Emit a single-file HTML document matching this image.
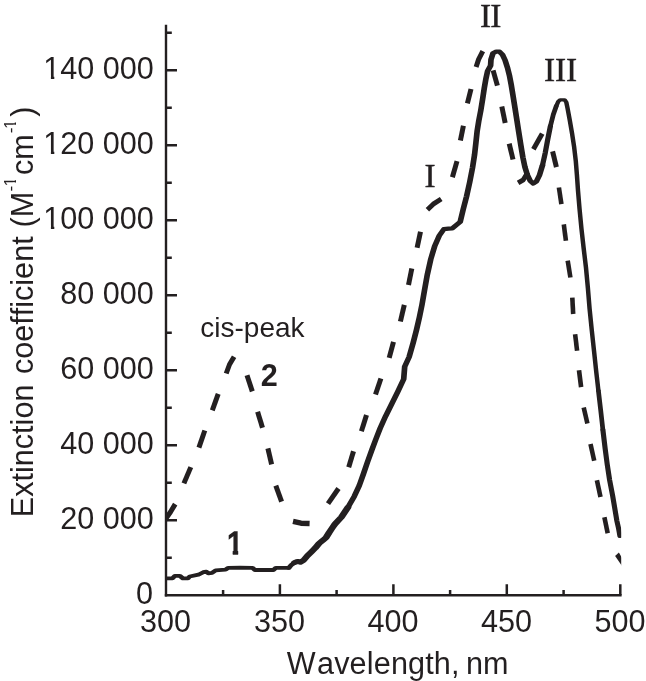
<!DOCTYPE html>
<html lang="en"><head><meta charset="utf-8"><title>Extinction coefficient vs wavelength</title>
<style>
html,body{margin:0;padding:0;background:#fff}
body{width:646px;height:681px;overflow:hidden}
svg{display:block}
text{font-family:"Liberation Sans",Arial,sans-serif;fill:#231f20;font-kerning:none}
.t{font-size:30.6px}
.b{font-size:30.6px;font-weight:bold}
.r{font-family:"Liberation Serif","Times New Roman",serif;font-size:33.3px;stroke:#231f20;stroke-width:.45px}
.s{font-size:17.3px}
.c{font-size:28px}
</style></head><body>
<svg width="646" height="681" viewBox="0 0 646 681">
<rect width="646" height="681" fill="#fff"/>
<defs><clipPath id="cp"><rect x="166" y="20" width="455.2" height="576"/></clipPath></defs>

<g stroke="#231f20" fill="none" stroke-linecap="butt">
<path stroke-width="2.4" d="M166.0 24.8 V596.6"/>
<path stroke-width="2.6" d="M164.8 595.3 H621.6"/>
<path stroke-width="2.5" d="M166.0 557.8 h5.8 M166.0 520.3 h11.0 M166.0 482.8 h5.8 M166.0 445.3 h11.0 M166.0 407.8 h5.8 M166.0 370.3 h11.0 M166.0 332.8 h5.8 M166.0 295.2 h11.0 M166.0 257.7 h5.8 M166.0 220.2 h11.0 M166.0 182.7 h5.8 M166.0 145.2 h11.0 M166.0 107.7 h5.8 M166.0 70.2 h11.0 M166.0 32.7 h5.8 M223.1 595.3 v-5.4 M279.9 595.3 v-11.0 M336.6 595.3 v-5.4 M393.4 595.3 v-11.0 M450.1 595.3 v-5.4 M506.8 595.3 v-11.0 M563.6 595.3 v-5.4 M620.3 595.3 v-11.0"/>
</g>
<g clip-path="url(#cp)"><g transform="scale(1.36 1)" fill="none" stroke="#231f20" stroke-linejoin="round" stroke-linecap="round">
<path stroke-width="3.8" d="M120.59 578.4 L126.76 578.4 L128.60 575.9 L132.21 575.9 L134.49 578.4 L138.16 578.4 L139.49 576.5 L145.88 574.7 L149.49 572.2 L151.76 571.6 L153.16 573.4 L155.88 572.8 L158.60 570.3 L165.88 569.7 L167.72 567.9 L176.47 567.7 L185.59 567.8 L187.43 570.0 L201.03 570.0 L202.87 567.8 L212.43 567.8"/>
<path stroke-width="3.9" d="M212.43 567.8 L214.34 564.8 L216.54 562.6"/>
<path stroke-width="5.0" d="M216.54 562.6 L218.68 561.4 L220.81 562.2 L223.24 560.3 L226.03 555.8 L228.90 552.0 L231.76 548.1 L234.63 543.4 L237.43 540.3 L239.71 537.6 L241.99 532.6 L244.26 528.0 L246.32 524.0 L251.03 517.2 L255.81 507.3"/>
<path stroke-width="4.2" d="M255.81 507.3 L260.51 496.3 L264.19 485.5 L267.11 474.4 L270.22 462.0 L273.44 449.9 L276.36 439.3 L279.49 428.4 L283.53 416.2 L288.09 403.8 L292.56 391.5 L296.84 379.1 L297.57 366.7 L300.88 356.8 L303.86 342.5 L306.32 329.5 L308.42 317.2 L310.28 304.8 L312.08 290.8 L314.21 274.6 L316.76 259.1 L319.71 245.8 L323.01 235.6 L326.40 229.1 L329.78 228.6 L332.57 228.4 L334.78 225.8 L338.38 221.8 L340.59 209.3 L343.07 196.3 L345.40 182.0 L347.44 167.8 L348.93 154.8 L349.96 142.4 L350.86 130.9 L352.06 120.8 L353.51 110.5 L354.85 99.3 L356.10 88.1 L357.32 78.6 L358.53 71.0 L360.74 65.6 L361.03 59.4 L362.50 53.2 L364.94 51.5 L367.28 51.7 L369.50 54.8 L371.45 60.4 L373.09 67.4 L374.56 75.3 L375.88 84.6 L377.11 94.7 L378.38 105.5 L379.82 118.0 L381.40 131.8 L382.98 145.3 L384.45 157.3 L385.96 167.0 L387.76 174.9 L389.89 180.9 L392.17 183.5 L394.43 181.4 L396.69 175.1 L398.90 165.3"/>
<path stroke-width="3.9" d="M398.90 165.3 L400.88 153.1 L402.74 139.5 L404.72 126.0"/>
<path stroke-width="3.6" d="M404.72 126.0 L406.86 114.5 L409.04 106.0"/>
<path stroke-width="3.3" d="M409.04 106.0 L410.51 101.6 L411.91 99.8 L415.15 99.8 L416.40 102.2 L417.28 108.0 L418.92 120.0 L420.61 133.3 L422.19 147.3 L423.38 161.2 L424.21 175.2 L425.02 190.8 L426.14 209.0 L427.52 228.5 L429.14 248.0 L430.86 267.5 L432.26 287.8 L433.53 308.8 L435.11 330.0 L436.82 351.4 L438.42 371.9 L440.00 390.7"/>
<path stroke-width="3.5" d="M440.00 390.7 L441.64 409.7 L443.31 429.8"/>
<path stroke-width="3.8" d="M443.31 429.8 L444.94 448.3 L446.49 464.4 L448.24 480.0 L450.44 495.6 L451.91 507.3 L453.60 521.0 L454.85 528.5 L455.88 536.2"/>
</g>
<path fill="none" stroke="#231f20" stroke-linejoin="round" stroke-width="5.0" d="M164.2 521.0 L170.5 512.0 L175.2 504.1"/>
<path fill="none" stroke="#231f20" stroke-linejoin="round" stroke-width="5.0" d="M183.9 483.4 L190.8 467.1"/>
<path fill="none" stroke="#231f20" stroke-linejoin="round" stroke-width="5.0" d="M198.9 447.6 L204.8 430.5"/>
<path fill="none" stroke="#231f20" stroke-linejoin="round" stroke-width="5.0" d="M212.3 410.4 L218.2 393.9"/>
<path fill="none" stroke="#231f20" stroke-linejoin="round" stroke-width="5.0" d="M226.2 373.5 L229.5 364.5 L234.1 356.8"/>
<path fill="none" stroke="#231f20" stroke-linejoin="round" stroke-width="5.0" d="M247.0 375.3 L252.3 391.4"/>
<path fill="none" stroke="#231f20" stroke-linejoin="round" stroke-width="5.0" d="M257.6 411.7 L262.5 427.8"/>
<path fill="none" stroke="#231f20" stroke-linejoin="round" stroke-width="5.0" d="M267.9 448.4 L271.6 464.4"/>
<path fill="none" stroke="#231f20" stroke-linejoin="round" stroke-width="5.0" d="M275.8 485.6 L281.6 501.6"/>
<path fill="none" stroke="#231f20" stroke-linejoin="round" stroke-width="5.4" d="M293.0 521.4 L301.0 523.2 L309.6 523.5"/>
<path fill="none" stroke="#231f20" stroke-linejoin="round" stroke-width="5.0" d="M328.0 503.7 L338.5 488.5"/>
<path fill="none" stroke="#231f20" stroke-linejoin="round" stroke-width="5.0" d="M348.7 467.3 L353.5 451.3"/>
<path fill="none" stroke="#231f20" stroke-linejoin="round" stroke-width="5.0" d="M361.4 431.2 L366.5 415.1"/>
<path fill="none" stroke="#231f20" stroke-linejoin="round" stroke-width="5.0" d="M375.5 394.5 L380.9 378.5"/>
<path fill="none" stroke="#231f20" stroke-linejoin="round" stroke-width="5.0" d="M389.2 357.9 L393.5 341.8"/>
<path fill="none" stroke="#231f20" stroke-linejoin="round" stroke-width="5.0" d="M400.4 321.5 L404.3 304.9"/>
<path fill="none" stroke="#231f20" stroke-linejoin="round" stroke-width="5.0" d="M408.5 284.9 L411.8 268.6"/>
<path fill="none" stroke="#231f20" stroke-linejoin="round" stroke-width="5.0" d="M417.1 247.8 L420.5 231.7"/>
<path fill="none" stroke="#231f20" stroke-linejoin="round" stroke-width="5.0" d="M427.4 209.7 L433.2 204.2 L441.2 199.0"/>
<path fill="none" stroke="#231f20" stroke-linejoin="round" stroke-width="5.0" d="M452.4 177.2 L457.0 161.1"/>
<path fill="none" stroke="#231f20" stroke-linejoin="round" stroke-width="5.0" d="M460.4 140.5 L463.4 125.7"/>
<path fill="none" stroke="#231f20" stroke-linejoin="round" stroke-width="5.0" d="M467.4 103.4 L471.0 89.0"/>
<path fill="none" stroke="#231f20" stroke-linejoin="round" stroke-width="5.0" d="M476.1 67.0 L478.6 59.4 L482.8 51.2"/>
<path fill="none" stroke="#231f20" stroke-linejoin="round" stroke-width="5.0" d="M493.1 70.4 L497.4 85.6"/>
<path fill="none" stroke="#231f20" stroke-linejoin="round" stroke-width="5.0" d="M501.8 106.6 L505.2 122.9"/>
<path fill="none" stroke="#231f20" stroke-linejoin="round" stroke-width="5.0" d="M509.2 143.6 L513.0 159.5"/>
<path fill="none" stroke="#231f20" stroke-linejoin="round" stroke-width="5.0" d="M518.1 182.9 L523.3 179.8 L527.9 172.3"/>
<path fill="none" stroke="#231f20" stroke-linejoin="round" stroke-width="5.0" d="M533.4 149.3 L542.2 133.6"/>
<path fill="none" stroke="#231f20" stroke-linejoin="round" stroke-width="5.0" d="M552.6 151.3 L556.4 167.2"/>
<path fill="none" stroke="#231f20" stroke-linejoin="round" stroke-width="4.6" d="M558.9 187.5 L561.4 204.1"/>
<path fill="none" stroke="#231f20" stroke-linejoin="round" stroke-width="4.6" d="M563.8 224.4 L565.9 240.8"/>
<path fill="none" stroke="#231f20" stroke-linejoin="round" stroke-width="4.6" d="M567.7 260.7 L570.4 277.5"/>
<path fill="none" stroke="#231f20" stroke-linejoin="round" stroke-width="4.6" d="M572.3 297.6 L573.2 314.0"/>
<path fill="none" stroke="#231f20" stroke-linejoin="round" stroke-width="4.6" d="M575.1 334.3 L577.1 350.7"/>
<path fill="none" stroke="#231f20" stroke-linejoin="round" stroke-width="4.6" d="M579.0 370.3 L581.1 387.1"/>
<path fill="none" stroke="#231f20" stroke-linejoin="round" stroke-width="4.6" d="M583.7 407.4 L587.4 423.6"/>
<path fill="none" stroke="#231f20" stroke-linejoin="round" stroke-width="4.6" d="M590.5 443.9 L594.2 460.7"/>
<path fill="none" stroke="#231f20" stroke-linejoin="round" stroke-width="4.6" d="M596.9 480.3 L600.5 497.1"/>
<path fill="none" stroke="#231f20" stroke-linejoin="round" stroke-width="4.6" d="M604.4 517.3 L607.7 533.2"/>
<path fill="#231f20" d="M615.1 555.9L618.9 552.5L622 558V566Z"/>
</g>
<text class="t" text-anchor="end" x="152.9" y="604.2">0</text>
<text class="t" text-anchor="end" x="153.9" y="529.2">20 000</text>
<text class="t" text-anchor="end" x="153.9" y="454.2">40 000</text>
<text class="t" text-anchor="end" x="153.9" y="379.2">60 000</text>
<text class="t" text-anchor="end" x="153.9" y="304.1">80 000</text>
<text class="t" text-anchor="end" x="153.9" y="229.1">100 000</text>
<text class="t" text-anchor="end" x="153.9" y="154.1">120 000</text>
<text class="t" text-anchor="end" x="153.9" y="79.1">140 000</text>
<path fill="#fff" d="M44 225.6h6.9v4.2h-6.9zM54.3 225.6h6.2v4.2h-6.2z"/>
<path fill="#fff" d="M44 150.6h6.9v4.2h-6.9zM54.3 150.6h6.2v4.2h-6.2z"/>
<path fill="#fff" d="M44 75.6h6.9v4.2h-6.9zM54.3 75.6h6.2v4.2h-6.2z"/>
<text class="t" text-anchor="middle" x="165.6" y="632.4">300</text>
<text class="t" text-anchor="middle" x="279.6" y="632.4">350</text>
<text class="t" text-anchor="middle" x="393.1" y="632.4">400</text>
<text class="t" text-anchor="middle" x="506.5" y="632.4">450</text>
<text class="t" text-anchor="middle" x="620.0" y="632.4">500</text>
<text class="t" y="674"><tspan x="286.7">W</tspan><tspan x="317.0" letter-spacing="0.15">avelength,</tspan> <tspan x="465.9">nm</tspan></text>
<g transform="translate(32.7 517.2) rotate(-90)"><text class="t" y="0"><tspan x="0">Extinction</tspan> <tspan x="143.1">coefficient</tspan> <tspan x="289.8">(M</tspan><tspan class="s" x="325.6" y="-17.2">-</tspan><tspan class="s" x="330.6" y="-17.2">1</tspan><tspan x="342.1" y="0">cm</tspan><tspan class="s" x="384" y="-17.2">-</tspan><tspan class="s" x="388.3" y="-17.2">1</tspan><tspan x="400.5" y="0">)</tspan></text><path fill="#fff" d="M330.9 -19.4h3.9v2.7h-3.9zM336.9 -19.4h3.6v2.7h-3.6zM388.6 -19.4h3.9v2.7h-3.9zM394.6 -19.4h3.6v2.7h-3.6z"/></g>
<text class="c" x="200.3" y="337.2">cis-peak</text>
<clipPath id="c1"><path d="M218 520H250V549.7H238.15V560H232.75V549.7H218Z"/></clipPath>
<g clip-path="url(#c1)"><text class="t" x="226.4" y="553.8" stroke="#231f20" stroke-width="1.5" stroke-linejoin="miter">1</text></g>
<text class="b" x="260.8" y="385.8">2</text>
<text class="r" x="424.5" y="187.0">I</text>
<text class="r" x="479.9" y="27.2" letter-spacing="-0.7">II</text>
<text class="r" x="543.9" y="80.9">III</text>
</svg></body></html>
